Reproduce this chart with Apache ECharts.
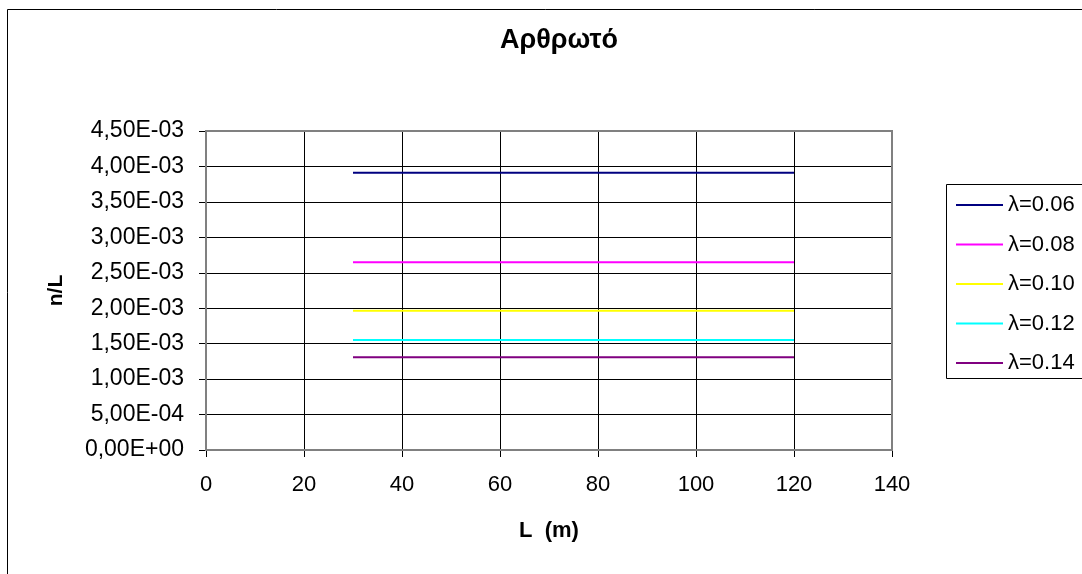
<!DOCTYPE html>
<html>
<head>
<meta charset="utf-8">
<script src="https://cdn.jsdelivr.net/npm/echarts@6/dist/echarts.min.js"></script>
<style>
  html, body { margin: 0; padding: 0; background: #fff; }
  #chart { width: 1082px; height: 574px; }
</style>
</head>
<body>
<div id="chart"></div>
<script>
// Span lengths L (m) at which n/L was computed
const spanL = [30, 50, 70, 90, 110, 120];
// Slenderness values, one curve each
const lambdaNames = ['λ=0.06', 'λ=0.08', 'λ=0.10', 'λ=0.12', 'λ=0.14'];
// n/L for each λ (constant along L)
const nL_006 = [3.91e-3, 3.91e-3, 3.91e-3, 3.91e-3, 3.91e-3, 3.91e-3];
const nL_008 = [2.65e-3, 2.65e-3, 2.65e-3, 2.65e-3, 2.65e-3, 2.65e-3];
const nL_010 = [1.965e-3, 1.965e-3, 1.965e-3, 1.965e-3, 1.965e-3, 1.965e-3];
const nL_012 = [1.55e-3, 1.55e-3, 1.55e-3, 1.55e-3, 1.55e-3, 1.55e-3];
const nL_014 = [1.31e-3, 1.31e-3, 1.31e-3, 1.31e-3, 1.31e-3, 1.31e-3];
const seriesColors = ['#000080', '#FF00FF', '#FFFF00', '#00FFFF', '#800080'];

const allValues = [nL_006, nL_008, nL_010, nL_012, nL_014];

// "4.50e-3" -> "4,50E-03"
function sciLabel(v) {
  const s = Number(v).toExponential(2);
  const [mant, exp] = s.split('e');
  const sign = exp[0] === '-' ? '-' : '+';
  const digits = exp.replace(/[+-]/, '').padStart(2, '0');
  return mant.replace('.', ',') + 'E' + sign + digits;
}

const font = 'Liberation Sans, Arial, sans-serif';

const series = lambdaNames.map((name, i) => ({
  name: name,
  type: 'line',
  symbol: 'none',
  data: spanL.map((x, j) => [x, allValues[i][j]]),
  lineStyle: { color: seriesColors[i], width: 2 },
  itemStyle: { color: seriesColors[i] },
  animation: false
}));

const chart = echarts.init(document.getElementById('chart'), null, { renderer: 'canvas' });
chart.setOption({
  backgroundColor: '#fff',
  animation: false,
  title: {
    text: 'Αρθρωτό',
    left: 554, top: 22, textAlign: 'center',
    textStyle: { fontFamily: font, fontSize: 27, fontWeight: 'bold', color: '#000' }
  },
  grid: { left: 206, top: 131, width: 686, height: 319, containLabel: false },
  legend: {
    orient: 'vertical',
    left: 950, top: 189, padding: 5,
    itemWidth: 47, itemHeight: 14, itemGap: 17.5,
    itemStyle: { opacity: 0 },
    textStyle: { fontFamily: font, fontSize: 22, lineHeight: 20, color: '#000' },
    data: lambdaNames
  },
  xAxis: {
    type: 'value', min: 0, max: 140, interval: 20,
    name: 'L  (m)', nameLocation: 'middle', nameGap: 70,
    nameTextStyle: { fontFamily: font, fontSize: 22, fontWeight: 'bold', color: '#000' },
    axisLine: { show: true, onZero: false, lineStyle: { color: '#808080', width: 2 } },
    axisTick: { show: true, inside: false, length: 7, lineStyle: { color: '#000' } },
    axisLabel: { margin: 24, fontFamily: font, fontSize: 22, color: '#000' },
    splitLine: { show: true, lineStyle: { color: '#000', width: 1 } }
  },
  yAxis: {
    type: 'value', min: 0, max: 0.0045, interval: 0.0005,
    name: 'n/L', nameLocation: 'middle', nameGap: 139, nameRotate: 90,
    nameTextStyle: { fontFamily: font, fontSize: 21, fontWeight: 'bold', color: '#000' },
    axisLine: { show: true, onZero: false, lineStyle: { color: '#000', width: 2 } },
    axisTick: { show: true, inside: false, length: 7, lineStyle: { color: '#000' } },
    axisLabel: { margin: 22, fontFamily: font, fontSize: 23, color: '#000', formatter: sciLabel },
    splitLine: { show: true, lineStyle: { color: '#000', width: 1 } }
  },
  graphic: [
    // outer chart frame
    { type: 'rect', silent: true, z: -1,
      shape: { x: 7.5, y: 9.5, width: 1100, height: 600 },
      style: { fill: 'none', stroke: '#000', lineWidth: 1 } },
    // plot area frame (top/right edges)
    { type: 'rect', silent: true, z: 1,
      shape: { x: 206, y: 131, width: 686, height: 319 },
      style: { fill: 'none', stroke: '#808080', lineWidth: 2 } },
    // legend frame
    { type: 'rect', silent: true, z: 0,
      shape: { x: 946.5, y: 184.5, width: 150, height: 194 },
      style: { fill: 'none', stroke: '#000', lineWidth: 1 } }
  ],
  series: series
});
</script>
</body>
</html>
